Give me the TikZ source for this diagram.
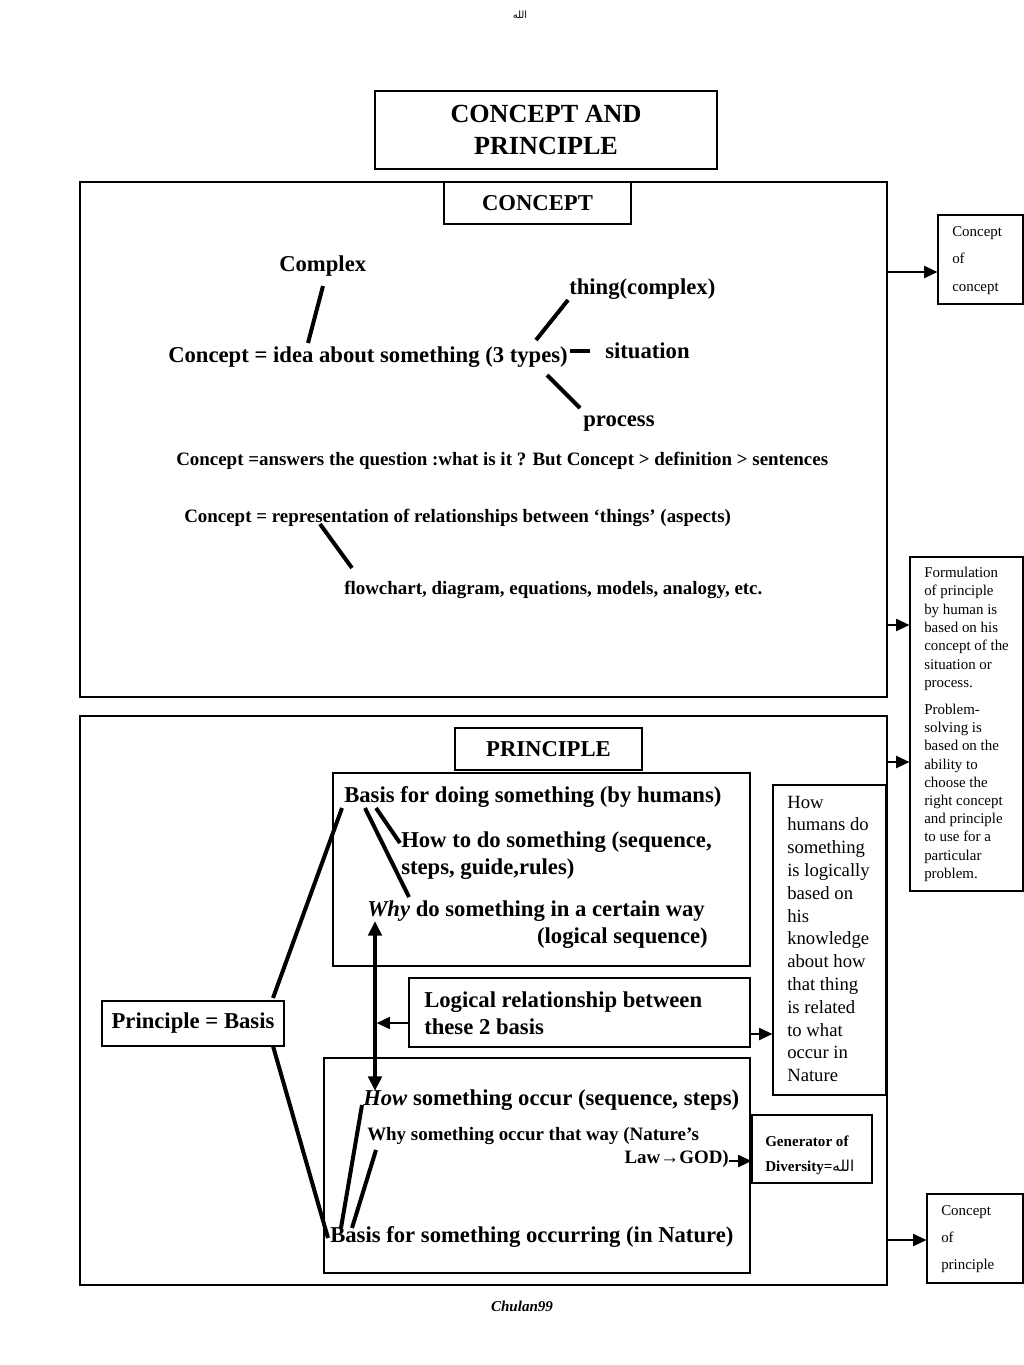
\documentclass[tikz,border=0pt]{standalone}
\usepackage{fontspec}
\setmainfont{Liberation Serif}
\newfontfamily\arabicfont[Script=Arabic]{DejaVu Sans}
\TeXXeTstate=1
\usetikzlibrary{arrows.meta}
\newcommand{\allahword}{{\mdseries\arabicfont\beginR الله\endR}}

\tikzset{
  panel/.style={draw, line width=0.8pt, inner sep=0pt},
  bigtxt/.style={font=\fontsize{17}{20}\selectfont\bfseries, inner sep=0pt, anchor=base west},
  midtxt/.style={font=\fontsize{14.2}{17}\selectfont\bfseries, inner sep=0pt, anchor=base west},
  gentxt/.style={font=\fontsize{11.3}{13}\selectfont\bfseries, inner sep=0pt, anchor=base west},
  notetxt/.style={font=\fontsize{11.2}{13}\selectfont, inner sep=0pt, anchor=base west},
  howtxt/.style={font=\fontsize{14}{17}\selectfont, inner sep=0pt, anchor=base west},
  link/.style={line width=3pt},
  sidearrow/.style={line width=1.5pt, -{Triangle[length=10pt,width=9pt]}},
}

\begin{document}
\begin{tikzpicture}[x=0.75pt, y=-0.75pt]
  \useasboundingbox (0,0) rectangle (1024,1365);
  \fill[white] (0,0) rectangle (1024,1365);

  % Header
  \node[font=\fontsize{7.5}{9}\selectfont, inner sep=0pt] (toptag) at (520,15) {\allahword};
  \node[panel, minimum width=256.5pt, minimum height=58.5pt, align=center,
        font=\fontsize{19.6}{23.5}\selectfont\bfseries] (title) at (546,130) {CONCEPT AND\\PRINCIPLE};

  % Concept panel
  \node[panel, minimum width=605.25pt, minimum height=386.25pt] (conceptbox) at (483.5,439.5) {};
  \node[panel, minimum width=140.25pt, minimum height=31.5pt,
        font=\fontsize{17}{20}\selectfont\bfseries] (conceptlabel) at (537.5,203) {CONCEPT};

  \node[bigtxt] (complex) at (279,271) {Complex};
  \node[bigtxt] (idea) at (168,362) {Concept = idea about something (3 types)};
  \node[bigtxt] (thing) at (569,294) {thing(complex)};
  \node[bigtxt] (situation) at (605,358) {situation};
  \node[bigtxt] (process) at (583,426) {process};
  \node[midtxt] (answers) at (176,465) {Concept =answers the question :what is it ? But Concept > definition > sentences};
  \node[midtxt] (relation) at (184,522) {Concept = representation of relationships between ‘things’ (aspects)};
  \node[midtxt] (flowchart) at (344,594) {flowchart, diagram, equations, models, analogy, etc.};

  % strokes between the concept texts
  \coordinate (complex-end) at (323,286);
  \coordinate (idea-top) at (308,343);
  \coordinate (idea-ne) at (536,340);
  \coordinate (thing-end) at (568,300);
  \coordinate (idea-e) at (570,351);
  \coordinate (situation-end) at (590,351);
  \coordinate (idea-se) at (547,375);
  \coordinate (process-end) at (580,408);
  \coordinate (relation-low) at (320,524);
  \coordinate (flowchart-end) at (352,568);
  \draw[link] (complex-end) -- (idea-top);
  \draw[link] (idea-ne) -- (thing-end);
  \draw[link] (idea-e) -- (situation-end);
  \draw[link] (idea-se) -- (process-end);
  \draw[link] (relation-low) -- (flowchart-end);

  % Side notes on the right
  \node[panel, minimum width=63.75pt, minimum height=66.75pt] (ofconcept) at (980.5,259.5) {};
  \foreach \txt [count=\i] in {Concept, of, concept}
    \node[notetxt] (ofconcept-\i) at (952,{236+27.5*(\i-1)}) {\txt};

  \node[panel, minimum width=84.75pt, minimum height=250.5pt] (sidenote) at (966.5,724) {};
  \foreach \txt [count=\i] in {Formulation, of principle, by human is, based on his, concept of the, situation or, process.}
    \node[notetxt] (form-\i) at (924,{577.5+18.3*(\i-1)}) {\txt};
  \foreach \txt [count=\i] in {Problem-, solving is, based on the, ability to, choose the, right concept, and principle, to use for a, particular, problem.}
    \node[notetxt] (solve-\i) at (924,{714.5+18.2*(\i-1)}) {\txt};

  \node[panel, minimum width=72pt, minimum height=66.75pt] (ofprinciple) at (975,1238.5) {};
  \foreach \txt [count=\i] in {Concept, of, principle}
    \node[notetxt] (ofprinciple-\i) at (941,{1215+27*(\i-1)}) {\txt};

  % Principle panel
  \node[panel, minimum width=605.25pt, minimum height=426.75pt] (principlebox) at (483.5,1000.5) {};
  \node[panel, minimum width=140.25pt, minimum height=31.5pt,
        font=\fontsize{17}{20}\selectfont\bfseries] (principlelabel) at (548.5,749) {PRINCIPLE};

  \node[panel, minimum width=312.75pt, minimum height=144.75pt] (humanbox) at (541.5,869.5) {};
  \node[bigtxt] (doing) at (344,802) {Basis for doing something (by humans)};
  \node[bigtxt] (howto) at (401,847) {How to do something (sequence,};
  \node[bigtxt] (steps) at (401,874) {steps, guide,rules)};
  \node[bigtxt] (why) at (367,916) {\textit{Why} do something in a certain way};
  \node[bigtxt, anchor=base east] (logical) at (708,943) {(logical sequence)};

  \node[panel, minimum width=84.75pt, minimum height=232.5pt] (howbox) at (829.5,940) {};
  \foreach \txt [count=\i] in {How, humans do, something, is logically, based on, his, knowledge, about how, that thing, is related, to what, occur in, Nature}
    \node[howtxt] (how-\i) at (787,{808+22.8*(\i-1)}) {\txt};

  \node[panel, minimum width=255.75pt, minimum height=51.75pt] (logicbox) at (579.5,1012.5) {};
  \node[bigtxt] (logic-1) at (424,1007) {Logical relationship between};
  \node[bigtxt] (logic-2) at (424,1034) {these 2 basis};

  \node[panel, minimum width=136.5pt, minimum height=33.75pt,
        font=\fontsize{17}{20}\selectfont\bfseries] (basis) at (193,1023.5) {Principle = Basis};

  \node[panel, minimum width=319.5pt, minimum height=161.25pt] (naturebox) at (537,1165.5) {};
  \node[bigtxt] (howoccur) at (363,1105) {\textit{How} something occur (sequence, steps)};
  \node[midtxt] (whyoccur) at (367,1140) {Why something occur that way (Nature’s};
  \node[midtxt, anchor=base east] (law) at (729,1163) {Law→GOD)};
  \node[bigtxt] (occurring) at (330,1242) {Basis for something occurring (in Nature)};

  \node[panel, minimum width=90pt, minimum height=51pt] (generator) at (812,1149) {};
  \node[gentxt] (gen-1) at (765,1146) {Generator of};
  \node[gentxt] (gen-2) at (765,1171) {Diversity=\allahword};

  % strokes between the principle texts
  \coordinate (doing-a) at (342,808);
  \coordinate (basis-top) at (273,998);
  \coordinate (doing-b) at (365,808);
  \coordinate (why-top) at (409,897);
  \coordinate (doing-c) at (376,808);
  \coordinate (howto-w) at (400,843);
  \coordinate (basis-bot) at (273,1046);
  \coordinate (occurring-w) at (328,1238);
  \coordinate (howoccur-w) at (362,1105);
  \coordinate (occurring-a) at (341,1228);
  \coordinate (whyoccur-w) at (376,1150);
  \coordinate (occurring-b) at (352,1228);
  \draw[link] (doing-a) -- (basis-top);
  \draw[link] (doing-b) -- (why-top);
  \draw[link] (doing-c) -- (howto-w);
  \draw[link] (basis-bot) -- (occurring-w);
  \draw[link] (howoccur-w) -- (occurring-a);
  \draw[link] (whyoccur-w) -- (occurring-b);

  % double arrow between the two bases
  \coordinate (why-tip) at (375,921);
  \coordinate (how-tip) at (375,1091);
  \draw[line width=3pt, {Triangle[length=11pt,width=10pt]}-{Triangle[length=11pt,width=10pt]}] (why-tip) -- (how-tip);

  % arrows
  \coordinate (rowA) at (0,272);
  \coordinate (rowB) at (0,625);
  \coordinate (rowC) at (0,762);
  \coordinate (rowD) at (0,1240);
  \coordinate (rowE) at (0,1023);
  \coordinate (rowF) at (0,1034);
  \coordinate (rowG) at (0,1161);
  \draw[sidearrow] (conceptbox.east |- rowA) -- (ofconcept.west |- rowA);
  \draw[sidearrow] (conceptbox.east |- rowB) -- (sidenote.west |- rowB);
  \draw[sidearrow] (principlebox.east |- rowC) -- (sidenote.west |- rowC);
  \draw[sidearrow] (principlebox.east |- rowD) -- (ofprinciple.west |- rowD);
  \draw[sidearrow] (logicbox.west |- rowE) -- ([xshift=1.2pt]why-tip |- rowE);
  \draw[sidearrow] (logicbox.east |- rowF) -- (howbox.west |- rowF);
  \draw[sidearrow] (law.east |- rowG) -- (generator.west |- rowG);

  % Footer
  \node[font=\fontsize{11.3}{13}\selectfont\bfseries\itshape, inner sep=0pt] (signature) at (522,1306) {Chulan99};
\end{tikzpicture}
\end{document}
